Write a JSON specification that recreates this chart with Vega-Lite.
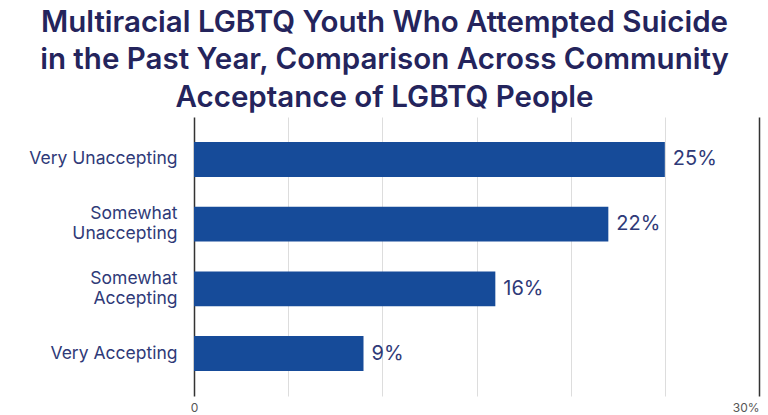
{
  "$schema": "https://vega.github.io/schema/vega-lite/v6.json",
  "autosize": {"type": "none"},
  "padding": {"left": 194, "top": 117, "right": 9, "bottom": 19},
  "width": 565,
  "height": 279,
  "background": "white",
  "title": {
    "text": ["Multiracial LGBTQ Youth Who Attempted Suicide", "in the Past Year, Comparison Across Community", "Acceptance of LGBTQ People"],
    "anchor": "middle",
    "dx": -92,
    "offset": 4,
    "font": "Inter",
    "fontSize": 29.5,
    "fontWeight": 600,
    "lineHeight": 37.5,
    "color": "#24245c"
  },
  "data": {
    "values": [
      {"category": "Very Unaccepting", "value": 0.25},
      {"category": "Somewhat|Unaccepting", "value": 0.22},
      {"category": "Somewhat|Accepting", "value": 0.16},
      {"category": "Very Accepting", "value": 0.09}
    ]
  },
  "encoding": {
    "y": {
      "field": "category",
      "type": "nominal",
      "sort": null,
      "scale": {"paddingInner": 0.46, "paddingOuter": 0.385},
      "axis": {
        "title": null,
        "domain": false,
        "ticks": false,
        "labelPadding": 17,
        "labelFont": "Inter",
        "labelFontSize": 17.5,
        "labelColor": "#2f3a78",
        "labelLineHeight": 20,
        "labelOffset": {"condition": {"test": "indexof(datum.label, '|') >= 0", "value": -10}, "value": 0},
        "labelExpr": "split(datum.label, '|')"
      }
    },
    "x": {
      "field": "value",
      "type": "quantitative",
      "scale": {"domain": [0, 0.3], "nice": false},
      "axis": {
        "title": null,
        "values": [0, 0.05, 0.1, 0.15, 0.2, 0.25, 0.3],
        "labelExpr": "datum.value == 0 ? '0' : datum.value > 0.29 ? '30%' : ''",
        "labelAlign": {"condition": {"test": "datum.value > 0.29", "value": "right"}, "value": "center"},
        "labelFont": "Inter",
        "labelFontSize": 12,
        "labelColor": "#555555",
        "labelPadding": 6,
        "ticks": false,
        "domain": false,
        "grid": true,
        "gridColor": {"condition": {"test": "datum.value == 0 || datum.value > 0.29", "value": "#333333"}, "value": "#dddddd"},
        "gridWidth": {"condition": {"test": "datum.value == 0 || datum.value > 0.29", "value": 1.5}, "value": 1}
      }
    }
  },
  "layer": [
    {"mark": {"type": "bar", "color": "#164b99"}},
    {
      "mark": {"type": "text", "align": "left", "baseline": "middle", "dx": 8, "font": "Inter", "fontSize": 20, "color": "#2f3a78"},
      "encoding": {"text": {"field": "value", "type": "quantitative", "format": ".0%"}}
    }
  ],
  "config": {"view": {"stroke": null}}
}
